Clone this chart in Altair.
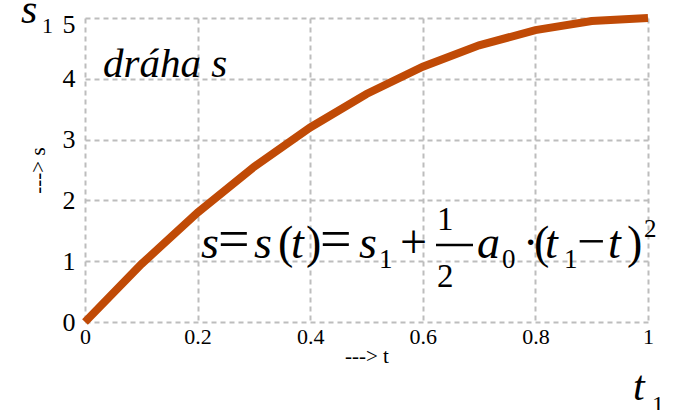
import altair as alt
import pandas as pd

# path s(t) sampled at t = 0, 0.1, ..., 1
t_values = [0.0, 0.1, 0.2, 0.3, 0.4, 0.5, 0.6, 0.7, 0.8, 0.9, 1.0]
s_values = [0.0, 0.95, 1.8, 2.55, 3.2, 3.75, 4.2, 4.55, 4.8, 4.95, 5.0]
x_ticks = [0, 0.2, 0.4, 0.6, 0.8, 1]
y_ticks = [0, 1, 2, 3, 4, 5]

# plot frame inside the 673x410 canvas
LEFT, TOP, RIGHT, BOTTOM = 85, 18, 25, 88
W, H = 673 - LEFT - RIGHT, 410 - TOP - BOTTOM

SERIF = "Liberation Serif"
LINE_COLOR = "#C04A06"
GRID_COLOR = "#BDBDBD"

df = pd.DataFrame({"t": t_values, "s": s_values})

line = alt.Chart(df).mark_line(
    color=LINE_COLOR, strokeWidth=8, strokeCap="butt", strokeJoin="miter", clip=False
).encode(
    x=alt.X(
        "t:Q",
        scale=alt.Scale(domain=[0, 1], nice=False, zero=False),
        axis=alt.Axis(
            values=x_ticks,
            format=".1~f",
            title="---> t",
            titleFont=SERIF,
            titleFontSize=21,
            titleFontWeight="normal",
            titleColor="black",
            titleY=40,
            titleBaseline="alphabetic",
            labelFont=SERIF,
            labelFontSize=22,
            labelColor="black",
            labelPadding=4,
            labelFlush=False,
        ),
    ),
    y=alt.Y(
        "s:Q",
        scale=alt.Scale(domain=[0, 5], nice=False),
        axis=alt.Axis(
            values=y_ticks,
            title="---> s",
            titleFont=SERIF,
            titleFontSize=21,
            titleFontWeight="normal",
            titleColor="black",
            titleX=-47,
            titleY=H / 2,
            titleAlign="center",
            titleBaseline="middle",
            labelFont=SERIF,
            labelFontSize=26,
            labelColor="black",
            labelPadding=10,
            labelOffset=alt.ExprRef("datum.value == 5 ? 6 : 0"),
        ),
    ),
)


def glyph(text, x, y, size, italic=False):
    """Place one piece of text with its left edge and baseline at canvas pixel (x, y)."""
    return alt.Chart(pd.DataFrame({"k": [0]})).mark_text(
        text=text,
        font=SERIF,
        fontSize=size,
        fontStyle="italic" if italic else "normal",
        align="left",
        baseline="alphabetic",
        color="black",
    ).encode(x=alt.value(x - LEFT), y=alt.value(y - TOP))


labels = [
    # s1 at the top of the s axis, t1 at the end of the t axis
    glyph("s", 21, 23, 42, True),
    glyph("1", 42, 33, 22),
    glyph("t", 633, 400, 42, True),
    glyph("1", 652, 412, 24),
    # caption
    glyph("dráha s", 103, 77, 41, True),
    # s = s(t) = s1 + 1/2 a0 (t1 - t)^2
    glyph("s", 201, 258, 46, True),
    glyph("=", 218, 258, 56),
    glyph("s", 254, 258, 46, True),
    glyph("(", 278, 258, 46),
    glyph("t", 291, 258, 46, True),
    glyph(")", 306, 258, 46),
    glyph("=", 320, 258, 56),
    glyph("s", 359, 258, 46, True),
    glyph("1", 379, 268, 27),
    glyph("+", 400, 258, 48),
    glyph("1", 437, 230, 33),
    glyph("2", 437, 287, 33),
    glyph("a", 477, 258, 46, True),
    glyph("0", 502, 268, 27),
    glyph("\u00b7", 523, 258, 46),
    glyph("(", 534, 258, 46),
    glyph("t", 545, 258, 46, True),
    glyph("1", 564, 268, 27),
    glyph("\u2212", 577, 258, 50),
    glyph("t", 608, 258, 46, True),
    glyph(")", 627, 258, 46),
    glyph("2", 644, 237, 25),
]

fraction_bar = alt.Chart(pd.DataFrame({"k": [0]})).mark_rule(
    color="black", strokeWidth=2.5
).encode(
    x=alt.value(436 - LEFT),
    x2=alt.value(473 - LEFT),
    y=alt.value(245 - TOP),
)

chart = alt.layer(line, fraction_bar, *labels).properties(
    width=W,
    height=H,
    padding={"left": LEFT, "top": TOP, "right": RIGHT, "bottom": BOTTOM},
    autosize=alt.AutoSizeParams(type="none"),
    background="white",
).configure_view(
    stroke=None
).configure_axis(
    domain=False,
    ticks=False,
    grid=True,
    gridColor=GRID_COLOR,
    gridDash=[5, 4],
    gridWidth=2,
)

chart.save("out.html", embed_options={"renderer": "svg", "actions": False})
